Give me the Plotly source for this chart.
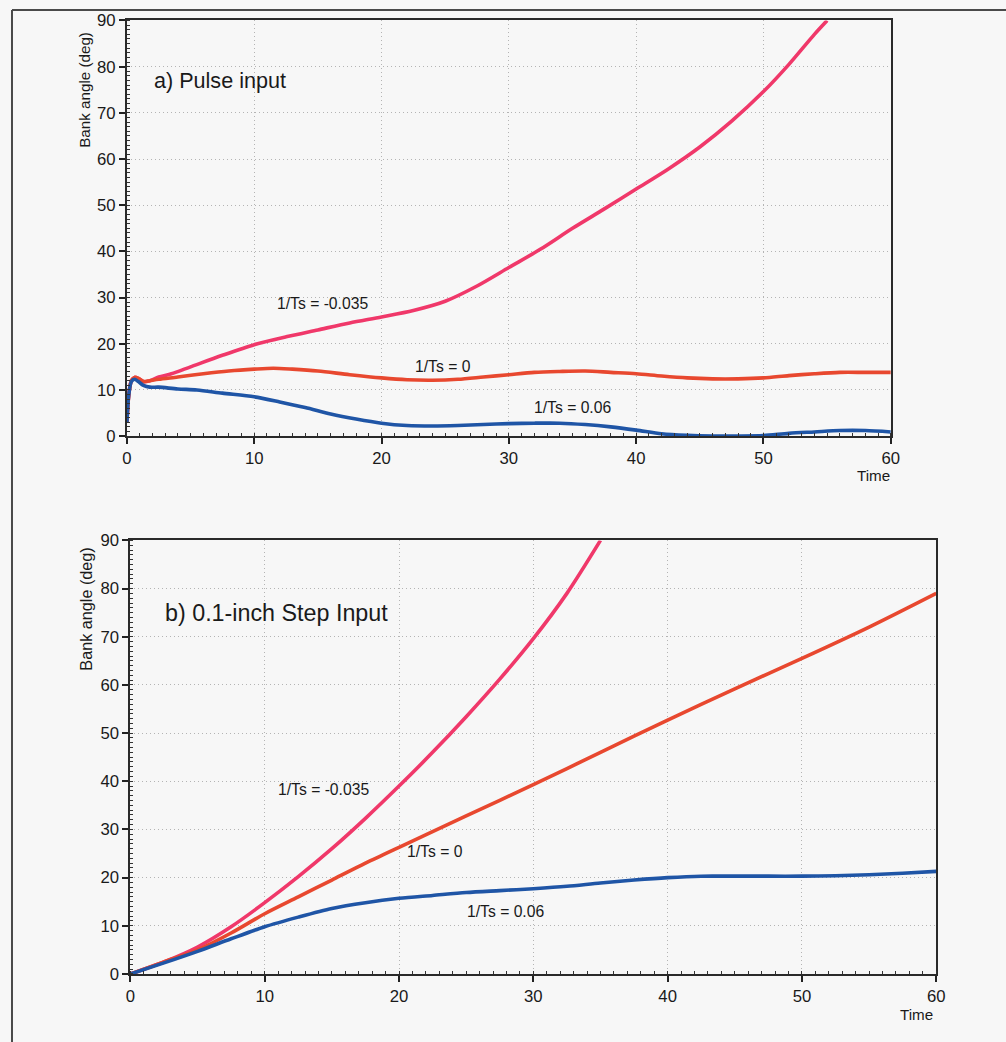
import plotly.graph_objects as go

# Page placement of the figure: the page adds a small offset and scale, so
# target pixel positions are converted to figure pixels with these factors.
OFF_X, OFF_Y = 4.0, 8.0
SX, SY = 0.987, 0.984
W, H = 1016, 1052

# ---- a) Pulse input: bank angle (deg) vs time ----
pulse_t_neg = [0, 0.15, 0.35, 0.6, 0.9, 1.3, 1.8, 2.5, 3.5, 5, 7.5, 10, 12.5, 15, 17.5,
               20, 22.5, 25, 27.5, 30, 32.5, 35, 37.5, 40, 42.5, 45, 47.5, 50, 52, 54, 55]
pulse_v_neg = [3, 9, 12, 12.7, 12.5, 11.8, 12.0, 12.8, 13.5, 15, 17.5, 19.8, 21.5, 23, 24.5,
               25.8, 27.2, 29.2, 32.5, 36.5, 40.5, 45, 49.2, 53.5, 57.8, 62.6, 68.2, 74.6, 80.5,
               87, 90]

pulse_t_zero = [0, 0.15, 0.35, 0.6, 0.9, 1.3, 1.8, 2.5, 4, 6, 8, 10, 11.5, 13, 15, 17.5, 20,
                22, 24, 26, 28, 30, 32, 34, 36, 38, 40, 42, 44, 46, 48, 50, 52, 54, 56, 58, 60]
pulse_v_zero = [3, 9, 12, 12.7, 12.5, 11.8, 12.0, 12.3, 12.8, 13.5, 14.1, 14.5, 14.7, 14.5, 14.1,
                13.3, 12.6, 12.2, 12.1, 12.3, 12.8, 13.3, 13.8, 14.0, 14.1, 13.8, 13.5, 13.0,
                12.6, 12.4, 12.4, 12.6, 13.1, 13.5, 13.8, 13.8, 13.8]

pulse_t_pos = [0, 0.15, 0.35, 0.6, 0.9, 1.3, 1.8, 2.5, 4, 5.5, 7.5, 10, 12, 14, 16, 18, 20,
               22, 24, 26, 28, 30, 32, 34, 36, 38, 40, 42, 44, 46, 48, 50, 52, 54, 56, 58, 60]
pulse_v_pos = [3, 9, 11.8, 12.3, 11.8, 11.0, 10.6, 10.6, 10.2, 10.0, 9.3, 8.5, 7.4, 6.2, 4.8,
               3.7, 2.8, 2.3, 2.2, 2.3, 2.5, 2.7, 2.8, 2.8, 2.5, 2.0, 1.3, 0.5, 0.15, 0, 0,
               0.1, 0.6, 0.9, 1.2, 1.2, 0.9]

# ---- b) 0.1-inch step input ----
step_t_neg = [0, 2.5, 5, 7.5, 10, 12.5, 15, 17.5, 20, 22.5, 25, 27.5, 30, 32.5, 35]
step_v_neg = [0, 2.5, 5.6, 9.8, 14.8, 20.2, 26.0, 32.3, 39.0, 46.0, 53.4, 61.2, 69.6, 79.0, 90]

step_t_zero = [0, 2.5, 5, 7.5, 10, 12.5, 15, 17.5, 20, 25, 30, 35, 40, 45, 50, 55, 60]
step_v_zero = [0, 2.5, 5, 8.5, 12.5, 16, 19.5, 23, 26.3, 32.8, 39.3, 46, 52.7, 59.2, 65.5, 72, 79]

step_t_pos = [0, 2.5, 5, 7.5, 10, 12.5, 15, 17.5, 20, 22.5, 25, 27.5, 30, 32.5, 35, 37.5, 40,
              42.5, 45, 47.5, 50, 52.5, 55, 57.5, 60]
step_v_pos = [0, 2.3, 4.7, 7.3, 9.8, 11.8, 13.6, 14.8, 15.7, 16.3, 16.9, 17.3, 17.7, 18.2, 18.9,
              19.5, 20.0, 20.3, 20.3, 20.3, 20.3, 20.4, 20.6, 20.9, 21.3]

x_ticks = [0, 10, 20, 30, 40, 50, 60]
y_ticks = [0, 10, 20, 30, 40, 50, 60, 70, 80, 90]

PINK = "#f0386a"
RED = "#e8482f"
BLUE = "#1f55a6"
FONT = "Liberation Sans, Arial, sans-serif"
TXT = "#1a1a1a"
BG = "#f7f7f7"
FS = 1 / SX  # font scale compensating for the page scale


def px(x):
    """screen column -> paper fraction"""
    return ((x - OFF_X) / SX) / W


def py(y):
    """screen row -> paper fraction"""
    return 1 - ((y - OFF_Y) / SY) / H


fig = go.Figure()

series = [
    ("x", "y", pulse_t_neg, pulse_v_neg, PINK),
    ("x", "y", pulse_t_zero, pulse_v_zero, RED),
    ("x", "y", pulse_t_pos, pulse_v_pos, BLUE),
    ("x2", "y2", step_t_neg, step_v_neg, PINK),
    ("x2", "y2", step_t_zero, step_v_zero, RED),
    ("x2", "y2", step_t_pos, step_v_pos, BLUE),
]
for xa, ya, t, v, c in series:
    fig.add_trace(go.Scatter(x=t, y=v, xaxis=xa, yaxis=ya, mode="lines",
                             line=dict(color=c, width=3.6, shape="spline", smoothing=0.8),
                             showlegend=False, hoverinfo="skip"))


def axis_common():
    return dict(ticks="outside", ticklen=6, tickwidth=1.5, tickcolor="#222", showline=True,
                linecolor="#2a2a2a", linewidth=2, mirror=True, showgrid=True,
                gridcolor="#b4b4b4", griddash="1px,3px", gridwidth=1, zeroline=False,
                tickfont=dict(family=FONT, size=16.5 * FS, color=TXT),
                minor=dict(ticks="inside", dtick=1, ticklen=3, tickcolor="#333", tickwidth=1,
                           showgrid=False))


def xaxis(domain, anchor):
    return dict(axis_common(), domain=domain, anchor=anchor, range=[0, 60], tickvals=x_ticks)


def yaxis(domain, anchor):
    return dict(axis_common(), domain=domain, anchor=anchor, range=[0, 90], tickvals=y_ticks)


fig.update_layout(
    width=W, height=H, margin=dict(l=0, r=0, t=0, b=0),
    paper_bgcolor=BG, plot_bgcolor=BG,
    xaxis=xaxis([px(126), px(890.5)], "y"),
    yaxis=yaxis([py(436), py(19.5)], "x"),
    xaxis2=xaxis([px(129.5), px(936)], "y2"),
    yaxis2=yaxis([py(975), py(540.5)], "x2"),
)

ann = []


def text(x, y, s, size, xref="paper", yref="paper", xanchor="center", angle=0):
    ann.append(dict(x=x, y=y, xref=xref, yref=yref, text=s, showarrow=False,
                    xanchor=xanchor, yanchor="middle", textangle=angle,
                    font=dict(family=FONT, size=size * FS, color=TXT)))


# panel titles
text(1.95, 77, "a) Pulse input", 21.3, "x", "y", "left")
text(2.4, 75, "b) 0.1-inch Step Input", 23, "x2", "y2", "left")

# curve labels, panel a
text(15.4, 28.7, "1/Ts = -0.035", 15.5, "x", "y")
text(24.8, 15.0, "1/Ts = 0", 15.5, "x", "y")
text(35.0, 6.1, "1/Ts = 0.06", 15.5, "x", "y")

# curve labels, panel b
text(14.4, 38.3, "1/Ts = -0.035", 15.5, "x2", "y2")
text(22.7, 25.5, "1/Ts = 0", 15.5, "x2", "y2")
text(27.9, 13.0, "1/Ts = 0.06", 15.5, "x2", "y2")

# axis titles
text(px(84), py(89), "Bank angle (deg)", 15, angle=-90)
text(px(85), py(609), "Bank angle (deg)", 16, angle=-90)
text(px(873), py(475), "Time", 15)
text(px(916), py(1016), "Time", 15)

fig.update_layout(annotations=ann)

# outer frame (top and left edges)
frame = dict(type="line", xref="paper", yref="paper", line=dict(color="#4a4a4a", width=2))
top = min(py(6), 1 - 1.0 / H)
fig.add_shape(frame, x0=px(11), y0=top, x1=1, y1=top)
fig.add_shape(frame, x0=px(11), y0=top, x1=px(11), y1=0)

fig.write_html("out.html")
